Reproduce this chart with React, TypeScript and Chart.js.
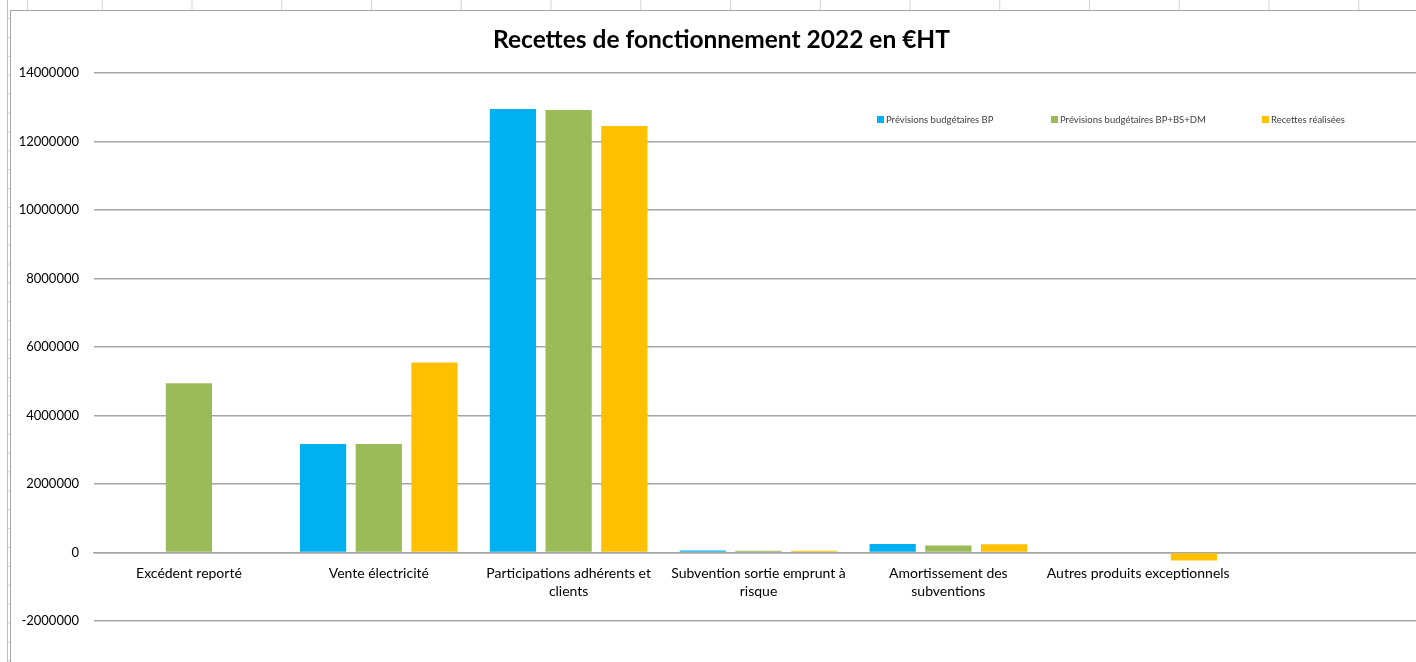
import React, { useEffect, useRef } from 'react';
import { Chart, registerables } from 'chart.js';

Chart.register(...registerables);

const categories: (string | string[])[] = [
  'Excédent reporté',
  'Vente électricité',
  ['Participations adhérents et', 'clients'],
  ['Subvention sortie emprunt à', 'risque'],
  ['Amortissement des', 'subventions'],
  'Autres produits exceptionnels',
  '',
];

const seriesNames = [
  'Prévisions budgétaires BP',
  'Prévisions budgétaires BP+BS+DM',
  'Recettes réalisées',
];

const seriesColors = ['#00b0f0', '#9bbb59', '#ffc000'];

const previsionsBP = [0, 3170000, 12950000, 60000, 245000, 0, null];
const previsionsBPBSDM = [4940000, 3170000, 12920000, 50000, 205000, 0, null];
const recettesRealisees = [0, 5550000, 12450000, 50000, 240000, -230000, null];

const yMin = -2000000;
const yMax = 14000000;
const yStep = 2000000;

const titleText = 'Recettes de fonctionnement 2022 en €HT';
const FONT = 'Lato, "Liberation Sans", sans-serif';

const legendStarts = [866, 1040, 1251];
const legendY = 108;

const floatingLegend = {
  id: 'floatingLegend',
  afterDraw(chart: any) {
    const ctx = chart.ctx as CanvasRenderingContext2D;
    ctx.save();
    ctx.font = `9.5px ${FONT}`;
    ctx.textBaseline = 'middle';
    ctx.textAlign = 'left';
    seriesNames.forEach((name, i) => {
      const x = legendStarts[i];
      ctx.fillStyle = seriesColors[i];
      ctx.fillRect(x, legendY - 3, 7, 7);
      ctx.fillStyle = '#404040';
      ctx.fillText(name, x + 9, legendY + 0.5);
    });
    ctx.restore();
  },
};

export default function App() {
  const canvasRef = useRef<HTMLCanvasElement | null>(null);

  useEffect(() => {
    if (!canvasRef.current) return;
    const datasets = [previsionsBP, previsionsBPBSDM, recettesRealisees].map((data, i) => ({
      label: seriesNames[i],
      data,
      backgroundColor: seriesColors[i],
      borderWidth: 0,
      categoryPercentage: 0.88,
      barPercentage: 0.83,
    }));
    const chart = new Chart(canvasRef.current, {
      type: 'bar',
      data: { labels: categories, datasets },
      plugins: [floatingLegend],
      options: {
        animation: false,
        responsive: false,
        maintainAspectRatio: false,
        layout: { padding: { left: 9, right: 22, top: 0, bottom: 88 } },
        plugins: {
          legend: { display: false },
          tooltip: { enabled: false },
          title: {
            display: true,
            text: titleText,
            color: '#000000',
            font: { family: FONT, size: 24.5, weight: 'bold', lineHeight: 1.2 },
            padding: { top: 14, bottom: 18.6 },
          },
        },
        scales: {
          x: {
            position: { y: 0 } as any,
            grid: { display: false, drawTicks: false },
            border: { display: true, color: '#a6a6a6', width: 1.5 },
            ticks: {
              color: '#000000',
              font: { family: FONT, size: 14, lineHeight: 1.3 },
              padding: 12,
              maxRotation: 0,
              autoSkip: false,
            },
          },
          y: {
            min: yMin,
            max: yMax,
            grid: { color: '#a6a6a6', lineWidth: 1.5, drawTicks: false },
            border: { display: false },
            afterFit: (scale: any) => {
              scale.width = 74;
            },
            ticks: {
              stepSize: yStep,
              color: '#000000',
              font: { family: FONT, size: 13 },
              padding: 15,
              callback: (v: any) => String(v),
            },
          },
        },
      },
    });
    return () => chart.destroy();
  }, []);

  const colBg = {
    backgroundColor: '#ffffff',
    backgroundImage: 'linear-gradient(to right, #d4d4d4 1px, transparent 1px)',
    backgroundSize: '89.75px 100%',
    backgroundPosition: '73.75px 0px',
  } as React.CSSProperties;

  const rowTicks = {
    backgroundImage: 'linear-gradient(to bottom, #d4d4d4 1px, transparent 1px)',
    backgroundSize: '100% 18.9px',
    backgroundPosition: '0px 18px',
  } as React.CSSProperties;

  return (
    <div
      style={{
        position: 'absolute',
        left: 0,
        top: 0,
        width: 1416,
        height: 662,
        overflow: 'hidden',
        background: '#ffffff',
      }}
    >
      <div style={{ position: 'absolute', left: 28, top: 0, width: 1420, height: 10, ...colBg }} />
      <div style={{ position: 'absolute', left: 27, top: 0, width: 1, height: 10, background: '#d4d4d4' }} />
      <div style={{ position: 'absolute', left: 8, top: 0, width: 2, height: 662, ...rowTicks }} />
      <div style={{ position: 'absolute', left: 7, top: 0, width: 1, height: 662, background: '#c0c0c0' }} />
      <div
        style={{
          position: 'absolute',
          left: 10,
          top: 10,
          width: 1436,
          height: 700,
          border: '1px solid #a6a6a6',
          boxSizing: 'border-box',
          background: '#ffffff',
        }}
      >
        <canvas ref={canvasRef} width={1434} height={698} style={{ display: 'block' }} />
      </div>
    </div>
  );
}
